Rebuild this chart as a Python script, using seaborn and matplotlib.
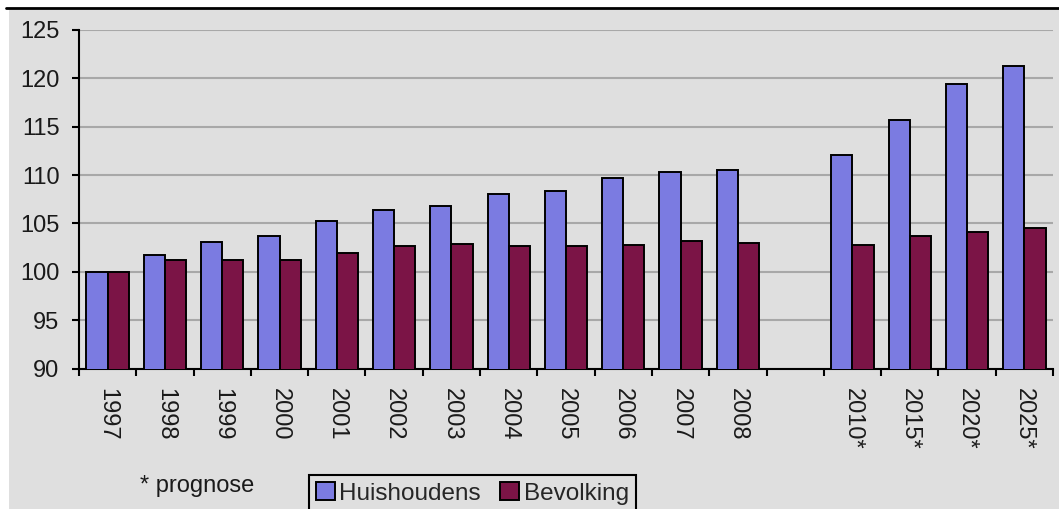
import matplotlib
matplotlib.use('Agg')
import matplotlib.pyplot as plt
import seaborn as sns
import pandas as pd
from matplotlib.patches import Rectangle
from matplotlib.lines import Line2D
from matplotlib.ticker import FixedLocator

# data (index, 1997 = 100)
years = ['1997', '1998', '1999', '2000', '2001', '2002', '2003', '2004',
         '2005', '2006', '2007', '2008', '2010*', '2015*', '2020*', '2025*']
huishoudens = [100.0, 101.7, 103.1, 103.7, 105.2, 106.4, 106.8, 108.0,
               108.4, 109.7, 110.3, 110.5, 112.1, 115.7, 119.4, 121.3]
bevolking = [100.0, 101.2, 101.2, 101.2, 101.9, 102.7, 102.9, 102.7,
             102.7, 102.8, 103.2, 103.0, 102.8, 103.7, 104.1, 104.5]
# empty slot between 2008 and the forecasts
order = years[:12] + [' '] + years[12:]
tick_labels = order

BG = '#dfdfdf'
sns.set_theme(style='white')
plt.rcParams['font.family'] = ['Liberation Sans', 'DejaVu Sans']

df = pd.DataFrame({
    'jaar': years * 2,
    'index': huishoudens + bevolking,
    'reeks': ['Huishoudens'] * len(years) + ['Bevolking'] * len(years),
})

fig = plt.figure(figsize=(10.59, 5.09), dpi=100)
fig.patch.set_facecolor('white')
fig.patches.append(Rectangle((9 / 1059, 0), 1, 1 - 9 / 509, transform=fig.transFigure,
                             facecolor=BG, edgecolor='none', zorder=-5))
fig.lines.append(Line2D([6 / 1059, 1], [1 - 8 / 509, 1 - 8 / 509], transform=fig.transFigure,
                        color='black', lw=2, zorder=-4))

ax = fig.add_axes([79 / 1059, 1 - 368.5 / 509, (1053 - 79) / 1059, (368.5 - 30) / 509])
ax.set_facecolor(BG)

sns.barplot(data=df, x='jaar', y='index', hue='reeks', order=order,
            hue_order=['Huishoudens', 'Bevolking'], saturation=1,
            palette=['#7b7be1', '#7b1446'], edgecolor='black', linewidth=1.4,
            width=0.74, ax=ax, zorder=3)

ax.set_ylim(90, 125)
ax.set_yticks(range(90, 126, 5))
ax.set_xlim(-0.5, len(order) - 0.5)
ax.yaxis.grid(True, color='#a8a8a8', lw=1.5, zorder=0)
ax.set_axisbelow(True)
for s in ['top', 'right']:
    ax.spines[s].set_visible(False)
for s in ['left', 'bottom']:
    ax.spines[s].set_color('black')
    ax.spines[s].set_linewidth(1.5)

ax.set_xticks(range(len(order)))
ax.set_xticklabels(tick_labels, rotation=-90, fontsize=17, color='#1a1a1a')
ax.xaxis.set_minor_locator(FixedLocator([i - 0.5 for i in range(len(order) + 1)]))
ax.tick_params(axis='x', which='major', length=0, pad=14)
ax.tick_params(axis='x', which='minor', length=5, width=1.5, color='black', bottom=True)
ax.tick_params(axis='y', length=5, width=1.5, color='black', left=True, pad=9,
               labelsize=17, labelcolor='#1a1a1a')
ax.set_xlabel('')
ax.set_ylabel('')

handles, labels = ax.get_legend_handles_labels()
ax.get_legend().remove()
leg = fig.legend(handles, labels, loc='upper left', bbox_to_anchor=(309 / 1059, 1 - 475 / 509),
                 ncol=2, fontsize=17.5, frameon=True, fancybox=False, facecolor=BG,
                 edgecolor='black', framealpha=1, handlelength=0.75, handleheight=0.75,
                 handletextpad=0.2, columnspacing=0.8, borderpad=0.3, borderaxespad=0)
leg.get_frame().set_linewidth(1.5)

fig.text(140 / 1059, 1 - 486 / 509, '* prognose', fontsize=17, color='#1a1a1a', va='center')

fig.savefig('out.png', dpi=100, facecolor=fig.get_facecolor())
